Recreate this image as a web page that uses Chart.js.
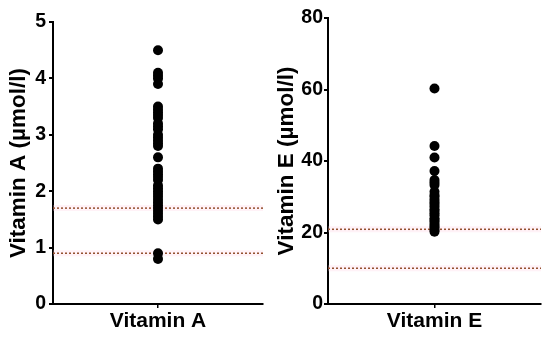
<!DOCTYPE html>
<html>
<head>
<meta charset="utf-8">
<script src="https://cdn.jsdelivr.net/npm/chart.js@4/dist/chart.umd.min.js"></script>
<style>
  body { margin: 0; background: #fff; }
  canvas { position: absolute; top: 0; }
  #chartA { left: 0; }
  #chartE { left: 275px; }
</style>
</head>
<body>
<canvas id="chartA" width="275" height="341"></canvas>
<canvas id="chartE" width="275" height="341"></canvas>
<script>
// values
const vitaminA = [4.5, 4.1, 4.05, 4.0, 3.9, 3.5, 3.45, 3.4, 3.35, 3.3, 3.2, 3.15, 3.1, 3.0, 2.95,
    2.9, 2.85, 2.8, 2.6, 2.4, 2.35, 2.3, 2.25, 2.2, 2.1, 2.05, 2.0, 1.95, 1.9, 1.85, 1.8, 1.75,
    1.7, 1.65, 1.6, 1.55, 1.5, 0.9, 0.8];
const vitaminE = [60.3, 44.2, 41.0, 37.2, 34.7, 34.0, 33.3, 31.4, 30.5, 30.0, 29.2, 28.5, 28.0,
    27.3, 26.5, 26.0, 25.4, 24.8, 24.0, 23.5, 23.0, 22.4, 21.8, 21.3, 20.7, 20.2];
const refA = [0.9, 1.7];
const refE = [10, 20.9];
const yTicksA = [0, 1, 2, 3, 4, 5];
const yTicksE = [0, 20, 40, 60, 80];

const family = 'Liberation Sans, Arial, sans-serif';
const tickFont = { family: family, size: 19.5, weight: 'bold' };
const labelFont = { family: family, size: 21, weight: 'bold' };
const titleFont = { family: family, size: 22.5, weight: 'bold', lineHeight: 1 };

function refLines(values) {
    const sets = [];
    values.forEach(v => {
        sets.push({
            type: 'line',
            data: [{ x: 0, y: v }, { x: 2, y: v }],
            borderColor: 'rgba(255, 205, 225, 0.25)',
            borderWidth: 6,
            pointRadius: 0,
            order: 3
        });
        sets.push({
            type: 'line',
            data: [{ x: 0, y: v }, { x: 2, y: v }],
            borderColor: '#94512f',
            borderWidth: 1.5,
            borderDash: [2, 2],
            pointRadius: 0,
            order: 2
        });
    });
    return sets;
}

function makeChart(id, name, values, refs, ticks, yTitle, pad, titleGap, tickGap) {
    const ctx = document.getElementById(id).getContext('2d');
    return new Chart(ctx, {
        type: 'scatter',
        data: {
            datasets: [{
                data: values.map(v => ({ x: 1, y: v })),
                backgroundColor: '#000',
                borderWidth: 0,
                pointRadius: 5,
                order: 1
            }].concat(refLines(refs))
        },
        options: {
            responsive: false,
            animation: false,
            layout: { padding: pad },
            plugins: { legend: { display: false }, tooltip: { enabled: false } },
            scales: {
                x: {
                    type: 'linear',
                    min: 0,
                    max: 2,
                    afterBuildTicks: s => { s.ticks = [{ value: 1 }]; },
                    afterFit: s => { s.height = 37; },
                    ticks: {
                        color: '#000',
                        font: labelFont,
                        padding: 1,
                        callback: () => name
                    },
                    grid: { drawOnChartArea: false, color: '#000', tickLength: 4, lineWidth: 1.5 },
                    border: { color: '#000', width: 2 }
                },
                y: {
                    min: 0,
                    max: ticks[ticks.length - 1],
                    afterBuildTicks: s => { s.ticks = ticks.map(v => ({ value: v })); },
                    afterFit: s => { s.width = 53; },
                    ticks: { color: '#000', font: tickFont, padding: tickGap },
                    grid: { drawOnChartArea: false, color: '#000', tickLength: 4, lineWidth: 2 },
                    border: { color: '#000', width: 2 },
                    title: {
                        display: true,
                        text: yTitle,
                        color: '#000',
                        font: titleFont,
                        padding: { top: titleGap, bottom: 0 }
                    }
                }
            }
        }
    });
}

makeChart('chartA', 'Vitamin A', vitaminA, refA, yTicksA, 'Vitamin A (µmol/l)',
    { top: 22, right: 12, left: 0, bottom: 0 }, 8, 3);
makeChart('chartE', 'Vitamin E', vitaminE, refE, yTicksE, 'Vitamin E (µmol/l)',
    { top: 18, right: 9, left: 0, bottom: 0 }, 1, 1);
</script>
</body>
</html>
